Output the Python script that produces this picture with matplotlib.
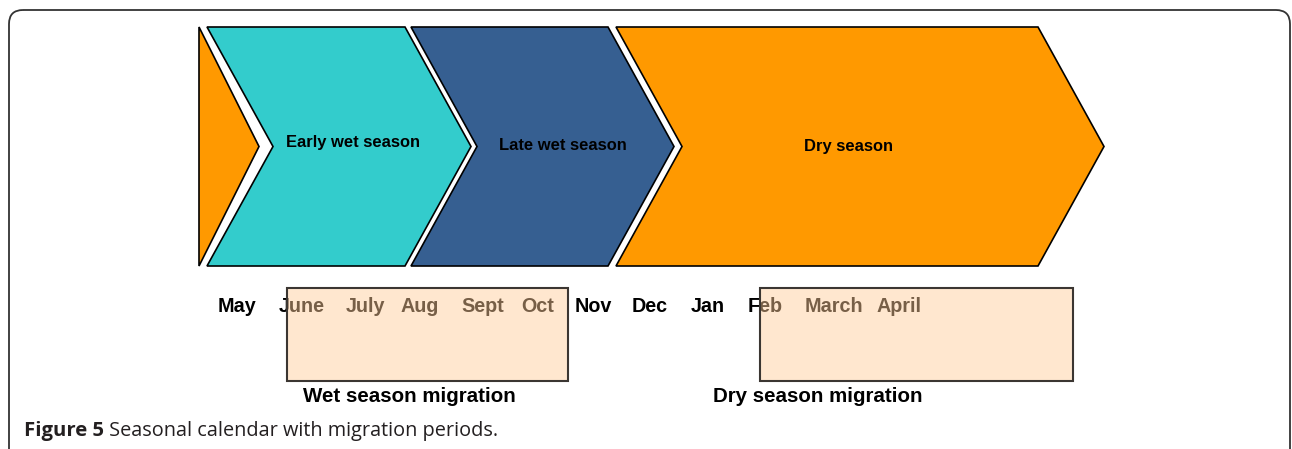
import matplotlib
matplotlib.use("Agg")
from matplotlib import pyplot as plt
from matplotlib.patches import Polygon, Rectangle, FancyBboxPatch

# data
months = ["May", "June", "July", "Aug", "Sept", "Oct", "Nov", "Dec", "Jan", "Feb", "March", "April"]
seasons = ["Early wet season", "Late wet season", "Dry season"]
season_colors = ["#33CCCC", "#365F91", "#FF9900"]
migrations = ["Wet season migration", "Dry season migration"]
caption_bold = "Figure 5"
caption_text = "Seasonal calendar with migration periods."

# layout (pixel coords)
month_x = [237, 302, 365, 420, 483, 538, 593, 650, 708, 765, 834, 899]
season_x = [(207, 405), (411, 608), (616, 1038)]
season_label_x = [353, 563, 848]
season_label_y = [143, 146, 146]
mig_box = [(287, 568), (760, 1073)]
mig_label_x = [409, 818]
top, bot, depth = 27, 266, 66
mid = (top + bot) / 2

fig = plt.figure(figsize=(12.92, 4.49), dpi=100)
ax = fig.add_axes([0, 0, 1, 1])
ax.set_xlim(0, 1292)
ax.set_ylim(449, 0)
ax.axis("off")

# outer frame
frame = FancyBboxPatch((9, 10), 1281, 470, boxstyle="round,pad=0,rounding_size=14",
                       facecolor="none", edgecolor="#333333", lw=1.3, clip_on=False)
ax.add_patch(frame)

# leading orange tip
ax.add_patch(Polygon([(199, top), (259, mid), (199, bot)], closed=True,
                     facecolor="#FF9900", edgecolor="black", lw=1.2))

for (x0, x1), name, col, lx, ly in zip(season_x, seasons, season_colors, season_label_x, season_label_y):
    pts = [(x0, top), (x1, top), (x1 + depth, mid), (x1, bot), (x0, bot), (x0 + depth, mid)]
    ax.add_patch(Polygon(pts, closed=True, facecolor=col, edgecolor="black", lw=1.2))
    ax.text(lx, ly, name, ha="center", va="center", fontsize=11.9,
            fontweight="bold", family="Liberation Sans", color="black")

for m, x in zip(months, month_x):
    ax.text(x, 306, m, ha="center", va="center", fontsize=14.2,
            fontweight="bold", family="Liberation Sans", color="black", zorder=3)

for (x0, x1), name, lx in zip(mig_box, migrations, mig_label_x):
    ax.add_patch(Rectangle((x0, 288), x1 - x0, 93, facecolor=(1.0, 0.8, 0.6, 0.47),
                           edgecolor="#3b3632", lw=1.5, zorder=4))
    ax.text(lx, 396, name, ha="center", va="center", fontsize=14.8,
            fontweight="bold", family="Liberation Sans", color="black")

cb = ax.text(24, 431, caption_bold, ha="left", va="center", fontsize=14.6,
             fontweight="bold", family="Open Sans", color="#231f20")
ax.annotate(" " + caption_text, xy=(1, 0.5), xycoords=cb, ha="left", va="center",
            fontsize=14.3, family="Open Sans", color="#231f20")

fig.savefig("out.png", dpi=100)
